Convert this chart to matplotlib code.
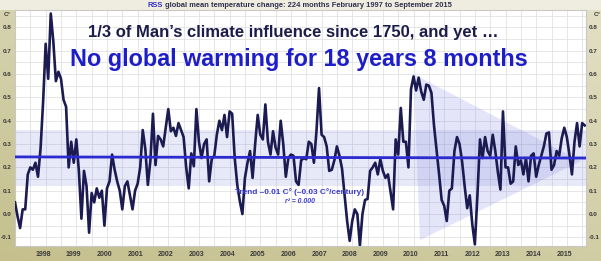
import numpy as np
import matplotlib
matplotlib.use("Agg")
import matplotlib.pyplot as plt
from matplotlib.patches import Polygon
from matplotlib import font_manager as fm

# ---------------- data (RSS monthly anomalies, C°) ----------------
y1997 = [0.05, -0.01, -0.06, 0.02, 0.02, 0.17, 0.20, 0.19, 0.22, 0.16, 0.28]  # Feb-Dec
y1998 = [0.48, 0.73, 0.58, 0.86, 0.74, 0.57, 0.61, 0.58, 0.49, 0.46, 0.20, 0.31]
y1999 = [0.22, 0.32, 0.185, -0.02, 0.185, 0.12, -0.08, 0.09, 0.05, 0.11, 0.07, 0.10]
y2000 = [-0.05, 0.11, 0.14, 0.255, 0.19, 0.14, 0.10, 0.02, 0.12, 0.14, 0.08, 0.02]
y2001 = [0.10, 0.13, 0.20, 0.36, 0.28, 0.125, 0.23, 0.43, 0.21, 0.335, 0.32, 0.29]
y2002 = [0.37, 0.45, 0.355, 0.37, 0.335, 0.39, 0.36, 0.33, 0.20, 0.11, 0.26, 0.205]
y2003 = [0.45, 0.31, 0.24, 0.30, 0.32, 0.14, 0.235, 0.25, 0.34, 0.40, 0.36, 0.425]
y2004 = [0.33, 0.44, 0.43, 0.24, 0.125, 0.055, 0.0, 0.155, 0.22, 0.27, 0.155, 0.30]
y2005 = [0.425, 0.34, 0.32, 0.47, 0.31, 0.255, 0.355, 0.285, 0.255, 0.40, 0.30, 0.16]
y2006 = [0.24, 0.255, 0.25, 0.14, 0.125, 0.23, 0.24, 0.235, 0.31, 0.30, 0.22, 0.355]
y2007 = [0.54, 0.34, 0.33, 0.29, 0.185, 0.19, 0.23, 0.29, 0.25, 0.195, 0.083, -0.03]
y2008 = [-0.115, -0.03, 0.02, 0.0, -0.135, 0.0, 0.06, 0.065, 0.185, 0.20, 0.22, 0.17]
y2009 = [0.235, 0.185, 0.155, 0.17, 0.095, 0.02, 0.32, 0.255, 0.455, 0.31, 0.31, 0.20]
y2010 = [0.535, 0.59, 0.53, 0.585, 0.525, 0.49, 0.555, 0.55, 0.52, 0.38, 0.275, 0.17]
y2011 = [0.06, 0.035, -0.03, 0.10, 0.11, 0.27, 0.33, 0.30, 0.225, 0.12, 0.025, 0.08]
y2012 = [-0.045, -0.13, 0.08, 0.32, 0.24, 0.33, 0.27, 0.25, 0.34, 0.27, 0.18, 0.105]
y2013 = [0.44, 0.20, 0.20, 0.13, 0.14, 0.29, 0.21, 0.23, 0.17, 0.24, 0.14, 0.25]
y2014 = [0.26, 0.16, 0.21, 0.25, 0.29, 0.345, 0.35, 0.19, 0.21, 0.27, 0.25, 0.325]
y2015 = [0.37, 0.33, 0.255, 0.17, 0.31, 0.39, 0.29, 0.39, 0.38]  # Jan-Sep

anomaly = np.array(y1997 + y1998 + y1999 + y2000 + y2001 + y2002 + y2003 + y2004 +
                   y2005 + y2006 + y2007 + y2008 + y2009 + y2010 + y2011 + y2012 +
                   y2013 + y2014 + y2015)
months = np.arange(len(anomaly))          # 0 = Feb 1997

year_labels = [str(y) for y in range(1998, 2016)]
year_pos = [11 + 12 * k for k in range(len(year_labels))]   # January of each year

ytick_vals = [-0.1, 0.0, 0.1, 0.2, 0.3, 0.4, 0.5, 0.6, 0.7, 0.8]

trend_start, trend_end = 0.245, 0.240
band_low, band_high = 0.12, 0.36
tri_x = [156.0, 158.5, 221.5]
tri_y = [0.60, -0.112, 0.227]

header_rss = "RSS"
header_rest = " global mean temperature change: 224 months February 1997 to September 2015"
title1 = "1/3 of Man\u2019s climate influence since 1750, and yet \u2026"
title2 = "No global warming for 18 years 8 months"
trend_text = "Trend \u20130.01 C\u00b0 (\u20130.03 C\u00b0/century)"
r2_text = "r\u00b2 = 0.000"

# ---------------- figure ----------------
W, H = 601, 261
fig = plt.figure(figsize=(W / 100, H / 100), dpi=100)

# background frame gradient
bg = fig.add_axes([0, 0, 1, 1], zorder=-10)
yy = np.linspace(0, 1, 200)[:, None]
xx = np.linspace(0, 1, 300)[None, :]
top = np.array([0.89, 0.88, 0.78])
bot = np.array([0.77, 0.75, 0.55])
t = np.clip(0.6 * yy + 0.4 * (1 - xx), 0, 1)
img = top[None, None, :] * (1 - t[..., None]) + bot[None, None, :] * t[..., None]
bg.imshow(img, extent=[0, 1, 0, 1], aspect="auto", origin="upper")
bg.add_patch(plt.Rectangle((0, 1 - 10 / H), 1, 10 / H, color="#efeddf", lw=0))
bg.set_xlim(0, 1); bg.set_ylim(0, 1)
bg.axis("off")

ax = fig.add_axes([15 / W, 1 - 245.5 / H, 571 / W, 235.5 / H])
ax.set_facecolor("white")
ax.set_xlim(0, 223.5)
ax.set_ylim(-0.135, 0.875)

# grid
for gy in np.arange(-0.1, 0.876, 0.05):
    ax.axhline(gy, color="#dcdcdc", lw=0.5, zorder=0.5)
for gx in range(0, 224, 6):
    ax.axvline(gx, color="#dcdcdc", lw=0.5, zorder=0.5)

# shaded band and arrow triangle
ax.axhspan(band_low, band_high, color="#7b80dd", alpha=0.18, lw=0, zorder=1)
ax.add_patch(Polygon(list(zip(tri_x, tri_y)), closed=True, color="#7b80dd",
                     alpha=0.2, lw=0, zorder=1))

ax.plot(months, anomaly, color="#1b1b52", lw=1.9, zorder=3, solid_joinstyle="round")
ax.plot([months[0], 223.5], [trend_start, trend_end], color="#2b2bd0", lw=2.0, zorder=4)

for s in ax.spines.values():
    s.set_color("#c8c8c8")
    s.set_linewidth(0.8)

tick_font = dict(fontsize=4.6, fontweight="bold", color="#3a3a3a", family="Liberation Sans")
ax.set_yticks(ytick_vals)
ax.set_yticklabels([f"{v:.1f}" for v in ytick_vals])
ax.set_xticks(year_pos)
ax.set_xticklabels(year_labels)
ax.tick_params(axis="both", length=0, labelsize=4.6, labelcolor="#3a3a3a")
ax.tick_params(axis="y", labelleft=True, labelright=True, pad=2.2)
ax.tick_params(axis="x", pad=4.2, labelsize=5.0)
for lab in ax.get_xticklabels() + ax.get_yticklabels():
    lab.set_fontweight("bold"); lab.set_family("Liberation Sans")

fig.text(7.5 / W, 1 - 15 / H, "C\u00b0", ha="center", va="center", **tick_font)
fig.text(597 / W, 1 - 14 / H, "C\u00b0", ha="center", va="center", **tick_font)

# ---------------- texts ----------------
names = {f.name for f in fm.fontManager.ttflist}
title_fam = "Liberation Sans Narrow" if "Liberation Sans Narrow" in names else "Liberation Sans"
renderer = fig.canvas.get_renderer()


def fit(txt, target_w):
    for _ in range(4):
        bb = txt.get_window_extent(renderer=renderer)
        txt.set_fontsize(txt.get_fontsize() * target_w / bb.width)


t1 = fig.text(293 / W, 1 - 37.5 / H, title1, ha="center", va="baseline",
              fontsize=13, fontweight="bold", color="#1c1c4a", family=title_fam)
fit(t1, 414)
t2 = fig.text(299 / W, 1 - 66.5 / H, title2, ha="center", va="baseline",
              fontsize=17, fontweight="bold", color="#1e1ec8", family=title_fam)
fit(t2, 458)

h1 = fig.text(148 / W, 1 - 7.3 / H, header_rss, ha="left", va="baseline",
              fontsize=5.2, fontweight="bold", color="#3434c4", family="Liberation Sans")
h2 = fig.text(0, 1 - 7.3 / H, header_rest, ha="left", va="baseline",
              fontsize=5.2, fontweight="bold", color="#2f2f4f", family="Liberation Sans")
for _ in range(3):
    b1 = h1.get_window_extent(renderer=renderer)
    h2.set_x(b1.x1 / W)
    b2 = h2.get_window_extent(renderer=renderer)
    scale = (453 - 148) / (b2.x1 - b1.x0)
    h1.set_fontsize(h1.get_fontsize() * scale)
    h2.set_fontsize(h2.get_fontsize() * scale)
b1 = h1.get_window_extent(renderer=renderer)
h2.set_x(b1.x1 / W)

tt = fig.text(300 / W, 1 - 194 / H, trend_text, ha="center", va="baseline",
              fontsize=6.5, fontweight="bold", color="#3a3acb", family="Liberation Sans")
fit(tt, 131)
tr = fig.text(300 / W, 1 - 203.3 / H, r2_text, ha="center", va="baseline",
              fontsize=5, fontstyle="italic", fontweight="bold", color="#3a3acb",
              family="Liberation Sans")
fit(tr, 30)

fig.savefig("out.png", dpi=100)
